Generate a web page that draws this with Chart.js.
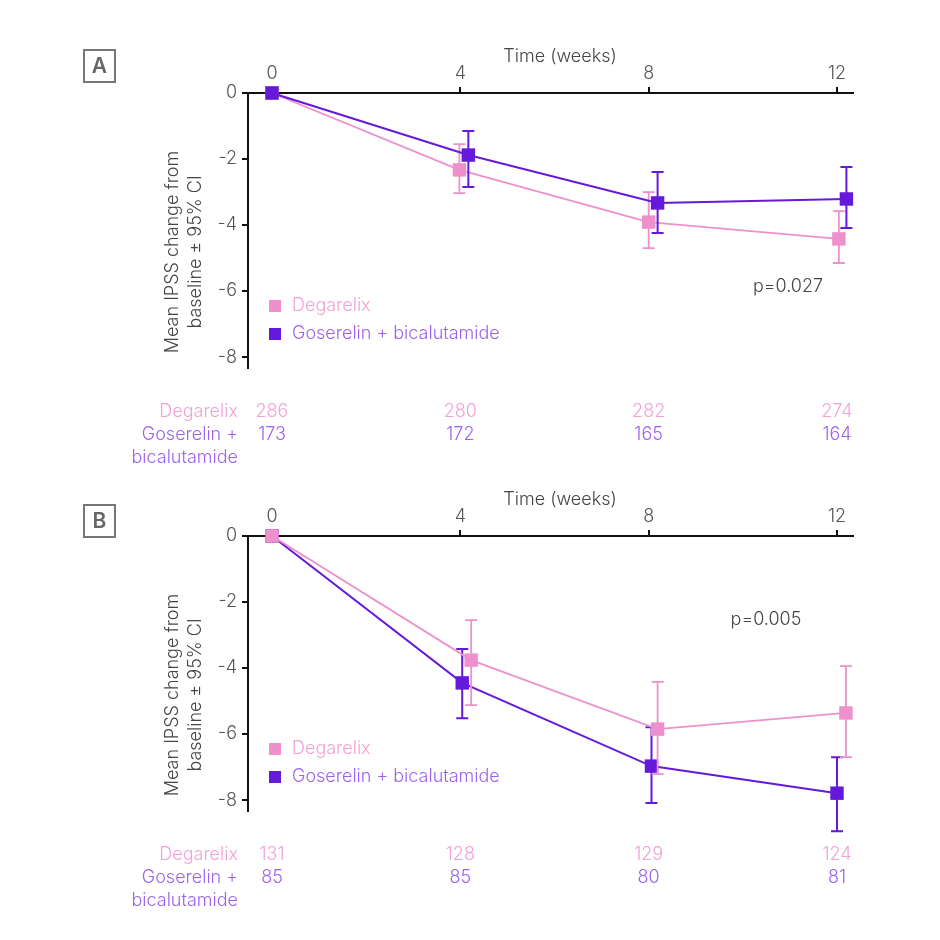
<!DOCTYPE html>
<html>
<head>
<meta charset="utf-8">
<script src="https://cdn.jsdelivr.net/npm/chart.js@4.4.1/dist/chart.umd.min.js"></script>
<style>
  html, body { margin: 0; padding: 0; background: #fff; }
  #wrap { position: relative; width: 940px; height: 940px; overflow: hidden; }
  canvas { position: absolute; left: 0; }
  #panelA { top: 0; }
  #panelB { top: 443px; }
</style>
</head>
<body>
<div id="wrap">
  <canvas id="panelA" width="940" height="470"></canvas>
  <canvas id="panelB" width="940" height="470"></canvas>
</div>
<script>
// values
const weekTicks = [0, 4, 8, 12];
const yTicks = [0, -2, -4, -6, -8];
const seriesNames = ['Degarelix', 'Goserelin + bicalutamide'];

// panel A
const aDegWeeks = [0, 3.98, 8.0, 12.04];
const aDegMean  = [0, -2.33, -3.91, -4.42];
const aDegLow   = [null, -3.03, -4.70, -5.15];
const aDegHigh  = [null, -1.55, -3.00, -3.58];
const aGosWeeks = [0, 4.17, 8.19, 12.2];
const aGosMean  = [0, -1.88, -3.33, -3.21];
const aGosLow   = [null, -2.85, -4.24, -4.09];
const aGosHigh  = [null, -1.15, -2.39, -2.24];
const aDegN = [286, 280, 282, 274];
const aGosN = [173, 172, 165, 164];

// panel B
const bDegWeeks = [0, 4.23, 8.19, 12.19];
const bDegMean  = [0, -3.76, -5.85, -5.36];
const bDegLow   = [null, -5.12, -7.21, -6.70];
const bDegHigh  = [null, -2.55, -4.42, -3.94];
const bGosWeeks = [0, 4.04, 8.06, 12.0];
const bGosMean  = [0, -4.45, -6.97, -7.79];
const bGosLow   = [null, -5.52, -8.09, -8.94];
const bGosHigh  = [null, -3.42, -5.79, -6.70];
const bDegN = [131, 128, 129, 124];
const bGosN = [85, 85, 80, 81];

const FONT = '"Inter", "Lato", "DejaVu Sans", sans-serif';
const FS = 18;
const PINK = '#ee90cc';
const PURPLE = '#6519da';
const PINK_TEXT = '#f0a2d6';
const PURPLE_TEXT = '#9c62ee';
const GREY = '#444';

function makeSet(label, xs, ys, lo, hi, color, width) {
  return {
    label,
    data: xs.map((x, i) => ({ x, y: ys[i] })),
    ciLow: lo,
    ciHigh: hi,
    borderColor: color,
    backgroundColor: color,
    borderWidth: width,
    pointStyle: 'rect',
    pointRadius: 9.5,
    pointBorderWidth: 0,
    pointBackgroundColor: color,
    tension: 0,
    clip: false
  };
}

// error bars drawn right before each dataset so markers sit on top
const errorBars = {
  id: 'errorBars',
  beforeDatasetDraw(chart, args) {
    const ds = chart.data.datasets[args.index];
    const meta = args.meta;
    const ys = chart.scales.y;
    const ctx = chart.ctx;
    ctx.save();
    ctx.strokeStyle = ds.borderColor;
    ctx.lineWidth = ds.borderWidth;
    meta.data.forEach((pt, i) => {
      if (ds.ciLow[i] == null) return;
      const x = pt.x;
      const y1 = ys.getPixelForValue(ds.ciHigh[i]);
      const y2 = ys.getPixelForValue(ds.ciLow[i]);
      ctx.beginPath();
      ctx.moveTo(x, y1); ctx.lineTo(x, y2);
      ctx.moveTo(x - 6, y1); ctx.lineTo(x + 6, y1);
      ctx.moveTo(x - 6, y2); ctx.lineTo(x + 6, y2);
      ctx.stroke();
    });
    ctx.restore();
  }
};

// letter box, titles, legend, p value, numbers at risk
const panelExtras = {
  id: 'panelExtras',
  afterDraw(chart, args, o) {
    const ctx = chart.ctx;
    const xs = chart.scales.x;
    ctx.save();

    // panel letter
    ctx.strokeStyle = '#777';
    ctx.lineWidth = 2;
    ctx.strokeRect(84, o.boxTop, 31, 32);
    ctx.fillStyle = '#666';
    ctx.font = '600 21px ' + FONT;
    ctx.textAlign = 'center';
    ctx.textBaseline = 'middle';
    ctx.fillText(o.letter, 99.5, o.boxTop + 17);

    // x title
    ctx.fillStyle = GREY;
    ctx.font = '300 ' + FS + 'px ' + FONT;
    ctx.fillText('Time (weeks)', 560, 57);

    // y title
    ctx.save();
    ctx.translate(184, 252);
    ctx.rotate(-Math.PI / 2);
    ctx.fillText('Mean IPSS change from', 0, -11.5);
    ctx.fillText('baseline \u00b1 95% CI', 0, 11.5);
    ctx.restore();

    // p value
    ctx.fillText(o.pText, o.pX, o.pY);

    // legend
    ctx.textAlign = 'left';
    [[PINK, PINK_TEXT, 306], [PURPLE, PURPLE_TEXT, 334]].forEach(([c, t, y], i) => {
      ctx.fillStyle = c;
      ctx.fillRect(269, y - 6, 12, 12);
      ctx.fillStyle = t;
      ctx.fillText(seriesNames[i], 292, y);
    });

    // numbers at risk
    ctx.textAlign = 'right';
    ctx.fillStyle = PINK_TEXT;
    ctx.fillText('Degarelix', 238, 412);
    ctx.fillStyle = PURPLE_TEXT;
    ctx.fillText('Goserelin +', 238, 435);
    ctx.fillText('bicalutamide', 238, 458);
    ctx.textAlign = 'center';
    weekTicks.forEach((w, i) => {
      const px = xs.getPixelForValue(w);
      ctx.fillStyle = PINK_TEXT;
      ctx.fillText(String(o.degN[i]), px, 412);
      ctx.fillStyle = PURPLE_TEXT;
      ctx.fillText(String(o.gosN[i]), px, 435);
    });
    ctx.restore();
  }
};

function buildPanel(id, datasets, extras) {
  return new Chart(document.getElementById(id), {
    type: 'line',
    data: { datasets },
    plugins: [errorBars, panelExtras],
    options: {
      responsive: false,
      animation: false,
      layout: { padding: { left: 0, right: 87, top: 0, bottom: 102 } },
      plugins: {
        legend: { display: false },
        tooltip: { enabled: false },
        panelExtras: extras
      },
      scales: {
        x: {
          type: 'linear',
          position: 'top',
          min: -0.51,
          max: 12.34,
          afterBuildTicks: s => { s.ticks = weekTicks.map(v => ({ value: v })); },
          afterFit: s => { s.height = 93; },
          grid: { drawOnChartArea: false, tickLength: 6, color: '#111', lineWidth: 2 },
          border: { color: '#111', width: 2 },
          ticks: { color: '#555', padding: 3, font: { family: FONT, size: FS, weight: 300 } }
        },
        y: {
          type: 'linear',
          min: -8.33,
          max: 0,
          afterBuildTicks: s => { s.ticks = yTicks.map(v => ({ value: v })); },
          afterFit: s => { s.width = 248; },
          grid: { drawOnChartArea: false, tickLength: 6, color: '#111', lineWidth: 2 },
          border: { color: '#111', width: 2 },
          ticks: { color: '#555', padding: 5, font: { family: FONT, size: FS, weight: 300 } }
        }
      }
    }
  });
}

buildPanel('panelA', [
  makeSet(seriesNames[1], aGosWeeks, aGosMean, aGosLow, aGosHigh, PURPLE, 2),
  makeSet(seriesNames[0], aDegWeeks, aDegMean, aDegLow, aDegHigh, PINK, 1.8)
], { letter: 'A', boxTop: 50, pText: 'p=0.027', pX: 788, pY: 287, degN: aDegN, gosN: aGosN });

buildPanel('panelB', [
  makeSet(seriesNames[0], bDegWeeks, bDegMean, bDegLow, bDegHigh, PINK, 1.8),
  makeSet(seriesNames[1], bGosWeeks, bGosMean, bGosLow, bGosHigh, PURPLE, 2)
], { letter: 'B', boxTop: 62, pText: 'p=0.005', pX: 766, pY: 177, degN: bDegN, gosN: bGosN });
</script>
</body>
</html>
